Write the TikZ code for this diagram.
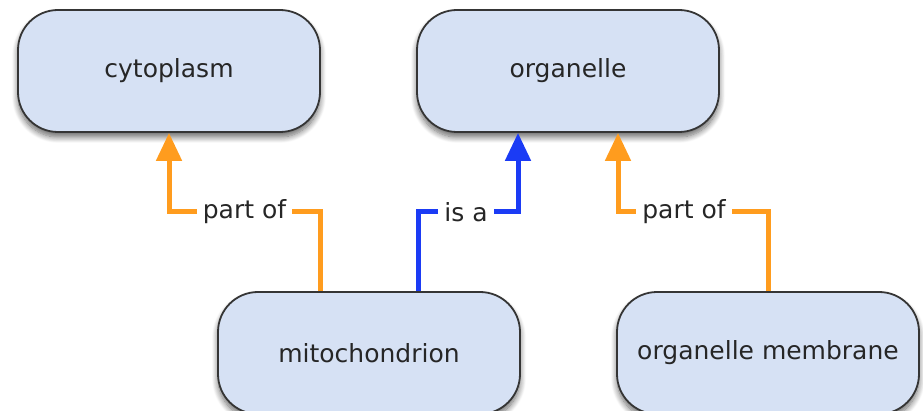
\documentclass[tikz,border=0pt]{standalone}
\usepackage{fontspec}
\setmainfont{DejaVu Sans}
\usetikzlibrary{arrows.meta,shadows.blur}
\definecolor{boxfill}{HTML}{D6E1F4}
\definecolor{boxline}{HTML}{353535}
\definecolor{txt}{HTML}{262626}
\definecolor{orangeline}{HTML}{FF9C1E}
\definecolor{blueline}{HTML}{1B3BF5}
\tikzset{
  concept/.style={draw=boxline, line width=1.8pt, fill=boxfill, rounded corners=40pt,
    minimum width=302pt, minimum height=122pt, text=txt,
    font=\fontsize{25}{30}\selectfont,
    blur shadow={shadow blur steps=10, shadow xshift=0pt, shadow yshift=-5pt, shadow opacity=60, shadow blur radius=6pt}},
  link/.style={line width=5pt, -{Triangle[length=28pt,width=25pt]}, rounded corners=0pt},
  partof/.style={link, draw=orangeline},
  isa/.style={link, draw=blueline},
  lbl/.style={fill=white, text=txt, inner xsep=6pt, inner ysep=2pt,
    font=\fontsize{25}{30}\selectfont}
}
\begin{document}
\begin{tikzpicture}[x=1pt,y=-1pt]
\useasboundingbox (0,0) rectangle (923,411);
\begin{scope}
\clip (0,0) rectangle (923,411);
\node[concept] (cyto) at (169,71) {cytoplasm};
\node[concept] (org) at (568,71) {organelle};
\node[concept] (mito) at (369,353) {mitochondrion};
\node[concept] (memb) at (768,353) {organelle membrane};
\end{scope}
\coordinate (lvl) at (0,212);
\coordinate (mitoL) at ([xshift=-49pt]mito.north);
\coordinate (mitoR) at ([xshift=49pt]mito.north);
\coordinate (orgL) at ([xshift=-50pt]org.south);
\coordinate (orgR) at ([xshift=50pt]org.south);
\draw[partof] (mitoL) |- (lvl -| cyto.south)
  node[lbl, pos=0.75] {part of} -- (cyto.south);
\draw[isa] (mitoR) |- (lvl -| orgL)
  node[lbl, pos=0.74] {is a} -- (orgL);
\draw[partof] (memb.north) |- (lvl -| orgR)
  node[lbl, pos=0.78] {part of} -- (orgR);
\end{tikzpicture}
\end{document}
